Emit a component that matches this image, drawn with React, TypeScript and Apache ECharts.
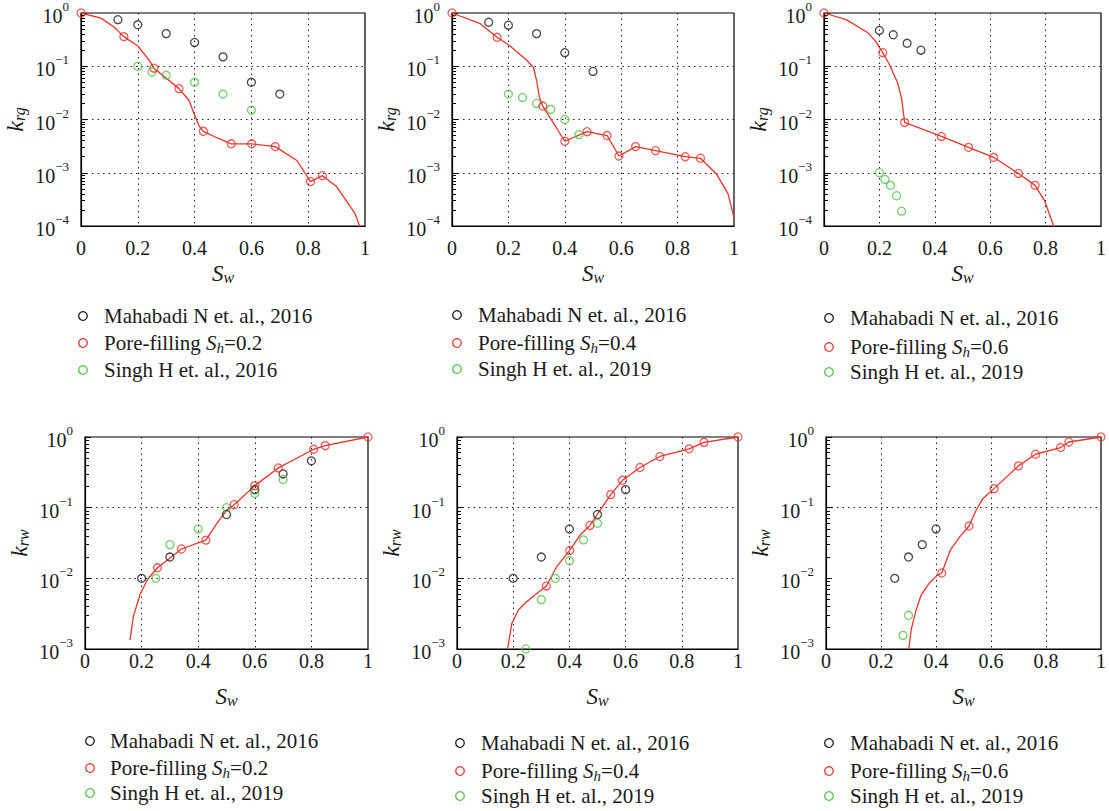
import React, { useEffect, useRef } from 'react';
import * as echarts from 'echarts';

// ---------- data ----------
const xTicks = [0, 0.2, 0.4, 0.6, 0.8, 1];

// k_rg, Sh = 0.2
const rgMahabadi02 = [[0.13, 0.75], [0.2, 0.6], [0.3, 0.41], [0.4, 0.28], [0.5, 0.15], [0.6, 0.05], [0.7, 0.03]];
const rgPore02 = [[0, 1], [0.151, 0.36], [0.257, 0.092], [0.345, 0.038], [0.431, 0.006], [0.529, 0.0035], [0.601, 0.0035], [0.684, 0.0031], [0.808, 0.00068], [0.85, 0.00088]];
const rgPore02Curve = [[0, 1], [0.07, 0.8], [0.115, 0.55], [0.151, 0.36], [0.2, 0.24], [0.24, 0.13], [0.257, 0.092], [0.345, 0.038], [0.38, 0.023], [0.398, 0.013], [0.416, 0.0075], [0.431, 0.006], [0.48, 0.0045], [0.529, 0.0035], [0.601, 0.0035], [0.684, 0.0031], [0.76, 0.0017], [0.808, 0.00068], [0.85, 0.00088], [0.9, 0.00055], [0.93, 0.00032], [0.965, 0.00017], [0.988, 0.00008]];
const rgSingh2016 = [[0.2, 0.1], [0.25, 0.078], [0.3, 0.068], [0.4, 0.05], [0.5, 0.03], [0.6, 0.015]];

// k_rg, Sh = 0.4
const rgMahabadi04 = [[0.13, 0.67], [0.2, 0.59], [0.3, 0.41], [0.4, 0.18], [0.5, 0.08]];
const rgPore04 = [[0, 1], [0.16, 0.35], [0.322, 0.0179], [0.4, 0.0039], [0.479, 0.0059], [0.55, 0.005], [0.592, 0.00206], [0.651, 0.0031], [0.722, 0.0026], [0.827, 0.002], [0.881, 0.00187]];
const rgPore04Curve = [[0, 1], [0.1, 0.63], [0.16, 0.35], [0.206, 0.24], [0.265, 0.13], [0.289, 0.095], [0.3, 0.054], [0.31, 0.026], [0.322, 0.0179], [0.4, 0.0039], [0.479, 0.0059], [0.55, 0.005], [0.592, 0.00206], [0.651, 0.0031], [0.722, 0.0026], [0.827, 0.002], [0.881, 0.00187], [0.9375, 0.00095], [0.979, 0.0004], [1, 0.000145]];
const rgSingh04 = [[0.2, 0.03], [0.25, 0.026], [0.3, 0.02], [0.35, 0.0155], [0.4, 0.01], [0.45, 0.0052]];

// k_rg, Sh = 0.6
const rgMahabadi06 = [[0.2, 0.47], [0.25, 0.39], [0.3, 0.27], [0.35, 0.2]];
const rgPore06 = [[0, 1], [0.212, 0.18], [0.291, 0.0088], [0.424, 0.0048], [0.522, 0.003], [0.612, 0.00195], [0.702, 0.00097], [0.762, 0.00058]];
const rgPore06Curve = [[0, 1], [0.08, 0.75], [0.16, 0.42], [0.185, 0.3], [0.212, 0.18], [0.235, 0.11], [0.265, 0.05], [0.28, 0.025], [0.287, 0.013], [0.291, 0.0088], [0.424, 0.0048], [0.522, 0.003], [0.612, 0.00195], [0.702, 0.00097], [0.762, 0.00058], [0.796, 0.0003], [0.84, 0.00007]];
const rgSingh06 = [[0.2, 0.001], [0.22, 0.00075], [0.24, 0.00058], [0.262, 0.00037], [0.28, 0.00019]];

// k_rw, Sh = 0.2
const rwMahabadi02 = [[0.2, 0.01], [0.3, 0.02], [0.5, 0.08], [0.6, 0.18], [0.7, 0.3], [0.8, 0.46]];
const rwPore02 = [[0.256, 0.0141], [0.341, 0.026], [0.427, 0.0347], [0.527, 0.11], [0.6, 0.205], [0.683, 0.365], [0.808, 0.67], [0.849, 0.755], [1, 1]];
const rwPore02Curve = [[0.159, 0.00134], [0.171, 0.0029], [0.195, 0.006], [0.222, 0.0098], [0.256, 0.0141], [0.341, 0.026], [0.427, 0.0347], [0.466, 0.06], [0.501, 0.092], [0.527, 0.11], [0.6, 0.205], [0.683, 0.365], [0.74, 0.48], [0.808, 0.67], [0.849, 0.755], [1, 1]];
const rwSingh02 = [[0.25, 0.01], [0.3, 0.03], [0.4, 0.05], [0.5, 0.1], [0.6, 0.16], [0.7, 0.25]];

// k_rw, Sh = 0.4
const rwMahabadi04 = [[0.2, 0.01], [0.3, 0.02], [0.4, 0.05], [0.5, 0.08], [0.6, 0.18]];
const rwPore04 = [[0.318, 0.0078], [0.401, 0.0248], [0.473, 0.056], [0.547, 0.153], [0.589, 0.244], [0.651, 0.37], [0.722, 0.53], [0.826, 0.68], [0.879, 0.84], [1, 1]];
const rwPore04Curve = [[0.18, 0.001], [0.195, 0.0023], [0.219, 0.0036], [0.249, 0.0047], [0.284, 0.0061], [0.318, 0.0078], [0.355, 0.0146], [0.401, 0.0248], [0.438, 0.041], [0.473, 0.056], [0.547, 0.153], [0.589, 0.244], [0.651, 0.37], [0.722, 0.53], [0.826, 0.68], [0.879, 0.84], [1, 1]];
const rwSingh04 = [[0.245, 0.001], [0.3, 0.005], [0.35, 0.01], [0.4, 0.0177], [0.45, 0.035], [0.5, 0.06]];

// k_rw, Sh = 0.6
const rwMahabadi06 = [[0.25, 0.01], [0.3, 0.02], [0.35, 0.03], [0.4, 0.05]];
const rwPore06 = [[0.421, 0.0119], [0.52, 0.055], [0.611, 0.186], [0.7, 0.39], [0.762, 0.57], [0.853, 0.71], [0.883, 0.85], [1, 1]];
const rwPore06Curve = [[0.301, 0.001], [0.31, 0.0019], [0.328, 0.0036], [0.346, 0.0058], [0.375, 0.0085], [0.404, 0.011], [0.421, 0.0119], [0.452, 0.025], [0.487, 0.039], [0.52, 0.055], [0.546, 0.092], [0.57, 0.134], [0.611, 0.186], [0.7, 0.39], [0.762, 0.57], [0.853, 0.71], [0.883, 0.85], [1, 1]];
const rwSingh06 = [[0.28, 0.00156], [0.3, 0.003]];

const MAH = 'Mahabadi N et. al., 2016';
const SINGH16 = 'Singh H et. al., 2016';
const SINGH19 = 'Singh H et. al., 2019';
const PORE = (sh: string) => `Pore-filling Sh=${sh}`;

// ---------- layout ----------
const FONT = 'Liberation Serif';
const TXT = '#1a1a1a';
const BLACK = '#1a1a1a';
const RED = '#e8352b';
const GREEN = '#52c247';

const panels = [
  { grid: { left: 81, top: 13, width: 284, height: 213 }, yMin: 1e-4, sub: 'rg', sh: '0.2', mah: rgMahabadi02, pore: rgPore02, curve: rgPore02Curve, singh: rgSingh2016, singhName: SINGH16, xMargin: 12, legend: { cx: 83, tx: 104, rows: [316, 343, 370] }, ySplit: '#222' },
  { grid: { left: 452, top: 13, width: 282, height: 213 }, yMin: 1e-4, sub: 'rg', sh: '0.4', mah: rgMahabadi04, pore: rgPore04, curve: rgPore04Curve, singh: rgSingh04, singhName: SINGH19, xMargin: 12, legend: { cx: 457, tx: 478, rows: [315, 343, 369] }, ySplit: '#222' },
  { grid: { left: 824, top: 13, width: 284, height: 213 }, yMin: 1e-4, sub: 'rg', sh: '0.6', mah: rgMahabadi06, pore: rgPore06, curve: rgPore06Curve, singh: rgSingh06, singhName: SINGH19, xMargin: 12, legend: { cx: 829, tx: 850, rows: [318, 347, 372] }, ySplit: '#222' },
  { grid: { left: 85, top: 437, width: 283, height: 212 }, yMin: 1e-3, sub: 'rw', sh: '0.2', mah: rwMahabadi02, pore: rwPore02, curve: rwPore02Curve, singh: rwSingh02, singhName: SINGH19, xMargin: 2, legend: { cx: 90, tx: 110, rows: [741, 768, 793] }, ySplit: '#222' },
  { grid: { left: 457, top: 437, width: 281, height: 212 }, yMin: 1e-3, sub: 'rw', sh: '0.4', mah: rwMahabadi04, pore: rwPore04, curve: rwPore04Curve, singh: rwSingh04, singhName: SINGH19, xMargin: 2, legend: { cx: 460, tx: 481, rows: [743, 771, 796] }, ySplit: '#222' },
  { grid: { left: 826, top: 437, width: 282, height: 212 }, yMin: 1e-3, sub: 'rw', sh: '0.6', mah: rwMahabadi06, pore: rwPore06, curve: rwPore06Curve, singh: rwSingh06, singhName: SINGH19, xMargin: 2, legend: { cx: 829, tx: 850, rows: [743, 771, 796] }, ySplit: ['transparent', '#222'] },
];

const supFmt = (v: number) => {
  const e = Math.round(Math.log10(v));
  return `{b|10}{s|${e < 0 ? '\u2212' + -e : e}}`;
};

// minor tick positions of a log axis (2..9 x 10^e)
const minorTickValues = (min: number) => {
  const out: number[] = [];
  for (let e = Math.round(Math.log10(min)); e < 0; e++) {
    for (let k = 2; k <= 9; k++) out.push(Number((k * Math.pow(10, e)).toPrecision(3)));
  }
  return out;
};

const legendRich = {
  n: { fontFamily: FONT, fontSize: 21, fill: TXT, color: TXT, lineHeight: 24 },
  i: { fontFamily: FONT, fontSize: 21, fontStyle: 'italic', fill: TXT, color: TXT, lineHeight: 24 },
  sub: { fontFamily: FONT, fontSize: 15, fontStyle: 'italic', fill: TXT, color: TXT, lineHeight: 24, padding: [10, 0, 0, 0] },
};

const legendText = (name: string) => {
  if (name.startsWith('Pore-filling')) {
    const v = name.split('=')[1];
    return `{n|Pore-filling }{i|S}{sub|h}{n|=${v}}`;
  }
  return `{n|${name}}`;
};

function buildOption() {
  const grid: any[] = [];
  const xAxis: any[] = [];
  const yAxis: any[] = [];
  const yMinorAxes: any[] = [];
  const series: any[] = [];
  const graphic: any[] = [];

  panels.forEach((p, i) => {
    grid.push({ ...p.grid, show: true, borderColor: '#000', borderWidth: 1.2, backgroundColor: 'transparent', containLabel: false });
    xAxis.push({
      type: 'value', gridIndex: i, min: xTicks[0], max: xTicks[xTicks.length - 1], interval: 0.2,
      axisLine: { show: true, onZero: false, lineStyle: { color: '#000', width: 1.2 } },
      axisTick: { show: false },
      axisLabel: { margin: p.xMargin, fontSize: 20, fontFamily: FONT, color: TXT, formatter: (v: number) => String(Math.round(v * 10) / 10) },
      splitLine: { show: true, showMinLine: false, showMaxLine: false, lineStyle: { color: '#222', type: [1.5, 4], width: 1 } },
      name: '{S|S}{w|w}', nameLocation: 'middle', nameGap: 34,
      nameTextStyle: {
        rich: {
          S: { fontSize: 23, fontStyle: 'italic', fontFamily: FONT, color: TXT, lineHeight: 26 },
          w: { fontSize: 16, fontStyle: 'italic', fontFamily: FONT, color: TXT, lineHeight: 26, padding: [9, 0, 0, 0] },
        },
      },
    });
    yAxis.push({
      type: 'log', logBase: 10, gridIndex: i, min: p.yMin, max: 1,
      axisLine: { show: true, lineStyle: { color: '#000', width: 1.2 } },
      axisTick: { show: true, inside: true, length: 6, lineStyle: { color: '#000', width: 1.1 } },
      axisLabel: {
        margin: 12, formatter: supFmt,
        rich: {
          b: { fontSize: 20, fontFamily: FONT, color: TXT, lineHeight: 26, verticalAlign: 'bottom' },
          s: { fontSize: 13, fontFamily: FONT, color: TXT, verticalAlign: 'top' },
        },
      },
      splitLine: { show: true, showMinLine: false, showMaxLine: false, lineStyle: { color: p.ySplit, type: [1.5, 4], width: 1 } },
      name: `{k|k}{s|${p.sub}}`, nameLocation: 'middle', nameRotate: 90, nameGap: 53,
      nameTextStyle: {
        rich: {
          k: { fontSize: 24, fontStyle: 'italic', fontFamily: FONT, color: TXT, lineHeight: 26 },
          s: { fontSize: 16, fontStyle: 'italic', fontFamily: FONT, color: TXT, lineHeight: 26, padding: [9, 0, 0, 0] },
        },
      },
    });
    // companion axis that only draws the log minor ticks
    yMinorAxes.push({
      type: 'log', logBase: 10, gridIndex: i, min: p.yMin, max: 1, position: 'left',
      axisLine: { show: false },
      axisLabel: { show: false },
      splitLine: { show: false },
      axisTick: { show: true, inside: true, length: 4, customValues: minorTickValues(p.yMin), lineStyle: { color: '#000', width: 1 } },
    });

    const scatterBase = (name: string, data: number[][], color: string, z: number) => ({
      type: 'scatter', name, xAxisIndex: i, yAxisIndex: i, data,
      symbol: 'circle', symbolSize: 8, z,
      itemStyle: { color: 'transparent', borderColor: color, borderWidth: 1.3 },
      emphasis: { disabled: true },
    });

    series.push({
      type: 'line', name: `curve ${i}`, xAxisIndex: i, yAxisIndex: i, data: p.curve,
      showSymbol: false, symbol: 'none', clip: true, z: 2,
      lineStyle: { color: RED, width: 1.3 },
      emphasis: { disabled: true },
    });
    series.push(scatterBase(MAH, p.mah, BLACK, 3));
    series.push(scatterBase(PORE(p.sh), p.pore, RED, 4));
    series.push(scatterBase(p.singhName, p.singh, GREEN, 3));

    // legend (drawn as graphic rows)
    const entries = [
      { name: MAH, color: BLACK },
      { name: PORE(p.sh), color: RED },
      { name: p.singhName, color: GREEN },
    ];
    entries.forEach((e, r) => {
      const cy = p.legend.rows[r];
      graphic.push({
        type: 'circle', silent: true,
        shape: { cx: p.legend.cx, cy, r: 4.3 },
        style: { fill: 'none', stroke: e.color, lineWidth: 1.3 },
      });
      graphic.push({
        type: 'text', silent: true, x: p.legend.tx, y: cy,
        style: { text: legendText(e.name), rich: legendRich, fontFamily: FONT, fontSize: 21, fill: TXT, align: 'left', verticalAlign: 'middle' },
      });
    });
  });

  return {
    animation: false,
    backgroundColor: '#ffffff',
    textStyle: { fontFamily: FONT },
    grid, xAxis, yAxis: [...yAxis, ...yMinorAxes], series, graphic,
  };
}

export default function App() {
  const ref = useRef<HTMLDivElement>(null);
  useEffect(() => {
    if (!ref.current) return;
    const chart = echarts.init(ref.current, undefined, { renderer: 'svg' });
    chart.setOption(buildOption() as any);
    return () => chart.dispose();
  }, []);
  return <div ref={ref} style={{ position: 'absolute', left: 0, top: 0, width: 1109, height: 811 }} />;
}
